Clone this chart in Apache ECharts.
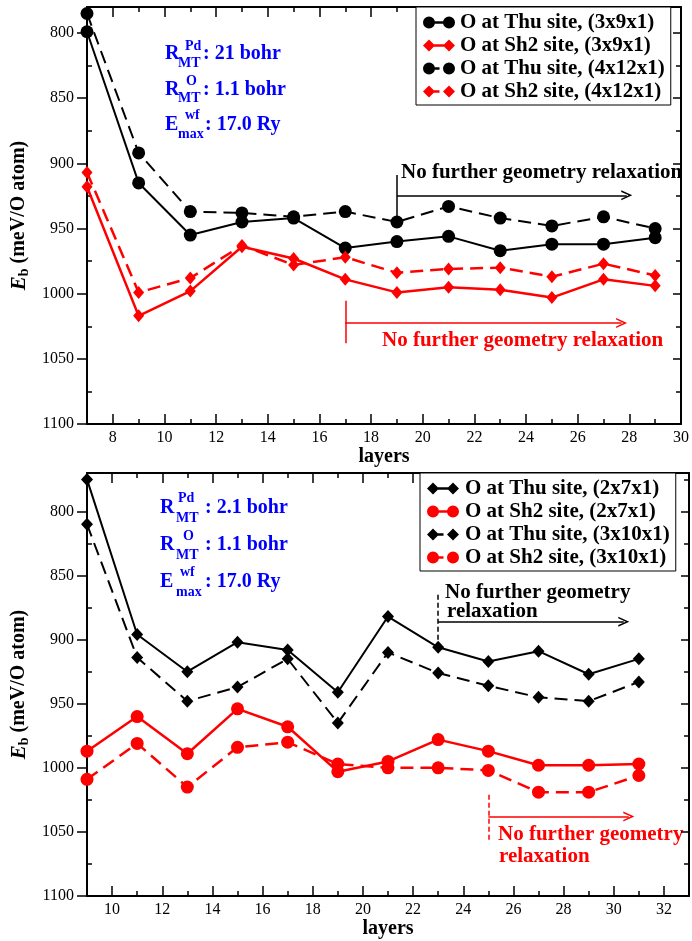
<!DOCTYPE html>
<html><head><meta charset="utf-8">
<script src="https://cdn.jsdelivr.net/npm/echarts@6/dist/echarts.min.js"></script>
<style>html,body{margin:0;padding:0;background:#fff}#c{width:692px;height:941px}</style>
</head><body><div id="c"></div>
<script>
// ---------------- data ----------------
const topLayers = [7, 9, 11, 13, 15, 17, 19, 21, 23, 25, 27, 29];
const topThu3x9 = [799, 915, 955, 945, 942, 965, 960, 956, 967, 962, 962, 957];
const topSh2_3x9 = [918, 1017, 998, 964, 973, 989, 999, 995, 997, 1003, 989, 994];
const topThu4x12 = [785, 892, 937, 938, 941, 937, 945, 933, 942, 948, 941, 950];
const topSh2_4x12 = [907, 999, 988, 963, 978, 972, 984, 981, 980, 987, 977, 986];

const botLayers = [9, 11, 13, 15, 17, 19, 21, 23, 25, 27, 29, 31];
const botThu2x7 = [775, 896, 925, 902, 908, 941, 882, 906, 917, 909, 927, 915];
const botSh2_2x7 = [987, 960, 989, 954, 968, 1003, 995, 978, 987, 998, 998, 997];
const botThu3x10 = [810, 914, 948, 937, 915, 965, 910, 926, 936, 945, 948, 933];
const botSh2_3x10 = [1009, 981, 1015, 984, 980, 997, 1000, 1000, 1002, 1019, 1019, 1006];

const topXTicks = [8, 10, 12, 14, 16, 18, 20, 22, 24, 26, 28, 30];
const topXMinor = [9, 11, 13, 15, 17, 19, 21, 23, 25, 27, 29];
const botXTicks = [10, 12, 14, 16, 18, 20, 22, 24, 26, 28, 30, 32];
const botXMinor = [11, 13, 15, 17, 19, 21, 23, 25, 27, 29, 31];
const yTicks = [800, 850, 900, 950, 1000, 1050, 1100];
const topYMinor = [825, 875, 925, 975, 1025, 1075];
const botYMinor = [775, 825, 875, 925, 975, 1025, 1075];

const topNames = ['O at Thu site, (3x9x1)', 'O at Sh2 site, (3x9x1)', 'O at Thu site, (4x12x1)', 'O at Sh2 site, (4x12x1)'];
const botNames = ['O at Thu site, (2x7x1)', 'O at Sh2 site, (2x7x1)', 'O at Thu site, (3x10x1)', 'O at Sh2 site, (3x10x1)'];

// annotation anchors (data coords): [x, yStart, yEnd, arrowY, arrowEndX]
const topBlackNote = [19, 909, 945, 924.5, 27.9];
const topRedNote = [17, 1005.5, 1038, 1022.5, 27.7];
const botBlackNote = [23, 865, 906, 886, 30.4];
const botRedNote = [25, 1021, 1058, 1038, 30.6];

// ---------------- styling ----------------
const FONT = '"Liberation Serif", "Times New Roman", serif';
const BLUE = '#0000ff';
const RED = '#ff0000';
const DASH = [13, 7];
const CHEVRON = 'path://M0,10 L5,0 L10,10 L8.4,10 L5,3.2 L1.6,10 Z';

function xAxes(grid, min, max, major, minor) {
  const base = {gridIndex: grid, type: 'value', min: min, max: max, splitLine: {show: false}, axisPointer: {show: false}};
  return [
    Object.assign({}, base, {position: 'bottom',
      axisLine: {show: true, onZero: false, lineStyle: {color: '#000', width: 2}},
      axisTick: {show: true, inside: true, length: 10, customValues: major, lineStyle: {color: '#000', width: 1.5}},
      axisLabel: {show: true, customValues: major, fontFamily: FONT, fontSize: 16, color: '#000', margin: 6,
        formatter: v => String(v)},
      name: 'layers', nameLocation: 'middle', nameGap: 22,
      nameTextStyle: {fontFamily: FONT, fontSize: 20, fontWeight: 'bold', color: '#000'}}),
    Object.assign({}, base, {position: 'bottom', axisLine: {show: false},
      axisTick: {show: true, inside: true, length: 5, customValues: minor, lineStyle: {color: '#000', width: 1.5}},
      axisLabel: {show: false}}),
    Object.assign({}, base, {position: 'top',
      axisLine: {show: true, onZero: false, lineStyle: {color: '#000', width: 2}},
      axisTick: {show: true, inside: true, length: 10, customValues: major, lineStyle: {color: '#000', width: 1.5}},
      axisLabel: {show: false}}),
    Object.assign({}, base, {position: 'top', axisLine: {show: false},
      axisTick: {show: true, inside: true, length: 5, customValues: minor, lineStyle: {color: '#000', width: 1.5}},
      axisLabel: {show: false}})
  ];
}
function yAxes(grid, min, max, major, minor) {
  const base = {gridIndex: grid, type: 'value', min: min, max: max, inverse: true, splitLine: {show: false}, axisPointer: {show: false}};
  return [
    Object.assign({}, base, {position: 'left',
      axisLine: {show: true, onZero: false, lineStyle: {color: '#000', width: 2}},
      axisTick: {show: true, inside: false, length: 10, customValues: major, lineStyle: {color: '#000', width: 1.5}},
      axisLabel: {show: true, customValues: major, fontFamily: FONT, fontSize: 16, color: '#000', margin: 13,
        formatter: v => String(v)},
      name: '{e|E}{b|b} (meV/O atom)', nameLocation: 'middle', nameGap: 55,
      nameTextStyle: {fontFamily: FONT, fontSize: 20, fontWeight: 'bold', color: '#000',
        rich: {
          e: {fontFamily: FONT, fontSize: 21, fontWeight: 'bold', fontStyle: 'italic', color: '#000'},
          b: {fontFamily: FONT, fontSize: 14, fontWeight: 'bold', color: '#000', padding: [10, 0, 0, 0]}
        }}}),
    Object.assign({}, base, {position: 'left', axisLine: {show: false},
      axisTick: {show: true, inside: true, length: 5, customValues: minor, lineStyle: {color: '#000', width: 1.5}},
      axisLabel: {show: false}}),
    Object.assign({}, base, {position: 'right',
      axisLine: {show: true, onZero: false, lineStyle: {color: '#000', width: 2}},
      axisTick: {show: true, inside: true, length: 8, customValues: major, lineStyle: {color: '#000', width: 1.5}},
      axisLabel: {show: false}}),
    Object.assign({}, base, {position: 'right', axisLine: {show: false},
      axisTick: {show: true, inside: true, length: 5, customValues: minor, lineStyle: {color: '#000', width: 1.5}},
      axisLabel: {show: false}})
  ];
}

function pairs(xs, ys) { return xs.map((x, i) => [x, ys[i]]); }

function noteLines(note, color, dashedVertical) {
  return {
    silent: true, animation: false,
    label: {show: false},
    emphasis: {disabled: true},
    data: [
      [{coord: [note[0], note[1]], symbol: 'none', lineStyle: {color: color, width: 1.5, type: dashedVertical ? [5, 3] : 'solid'}},
       {coord: [note[0], note[2]], symbol: 'none'}],
      [{coord: [note[0], note[3]], symbol: 'none', lineStyle: {color: color, width: 1.5, type: 'solid'}},
       {coord: [note[4], note[3]], symbol: CHEVRON, symbolSize: [10, 11]}]
    ]
  };
}

function series(name, xs, ys, xi, yi, color, dashed, symbol, size, width, note, dashedVertical) {
  const s = {
    type: 'line', name: name, xAxisIndex: xi, yAxisIndex: yi,
    data: pairs(xs, ys), symbol: symbol, symbolSize: size, showSymbol: true, clip: false,
    lineStyle: {color: color, width: width, type: dashed ? DASH : 'solid'},
    itemStyle: {color: color, borderWidth: 0},
    emphasis: {disabled: true}, animation: false
  };
  if (note) s.markLine = noteLines(note, color, dashedVertical);
  return s;
}

const ICON_CC = 'path://M0,6 A6,6 0 1,0 12,6 A6,6 0 1,0 0,6 Z M20,6 A6,6 0 1,0 32,6 A6,6 0 1,0 20,6 Z M6,4.8 L6,7.2 L26,7.2 L26,4.8 Z';
const ICON_CD = 'path://M0,6 A6,6 0 1,0 12,6 A6,6 0 1,0 0,6 Z M20,6 A6,6 0 1,0 32,6 A6,6 0 1,0 20,6 Z M6,4.8 L6,7.2 L16.5,7.2 L16.5,4.8 Z';
const ICON_DC = 'path://M0,6 L6,0 L12,6 L6,12 Z M20,6 L26,0 L32,6 L26,12 Z M6,4.8 L26,4.8 L26,7.2 L6,7.2 Z';
const ICON_DD = 'path://M0,6 L6,0 L12,6 L6,12 Z M20,6 L26,0 L32,6 L26,12 Z M6,4.8 L16.5,4.8 L16.5,7.2 L6,7.2 Z';

function legend(names, icons, left, top, itemWidth, itemHeight) {
  return {
    orient: 'vertical', left: left, top: top,
    data: names.map((n, i) => ({name: n, icon: icons[i]})),
    itemWidth: itemWidth, itemHeight: itemHeight, itemGap: 2,
    padding: [5, 6, 3, 7],
    borderColor: '#000', borderWidth: 1, borderRadius: 0, backgroundColor: '#fff',
    selectedMode: false,
    textStyle: {fontFamily: FONT, fontSize: 21, fontWeight: 'bold', color: '#000', lineHeight: 20}
  };
}

function txt(text, x, y, size, color) {
  return {type: 'text', x: x, y: y, silent: true,
    style: {text: text, fill: color, font: 'bold ' + size + 'px ' + FONT, align: 'left', verticalAlign: 'middle'}};
}

const graphics = [
  // top parameters
  txt('R', 165, 54, 20, BLUE), txt('Pd', 185, 46, 14, BLUE), txt('MT', 178, 63, 14, BLUE), txt(': 21 bohr', 203, 54, 20, BLUE),
  txt('R', 165, 90, 20, BLUE), txt('O', 186, 81, 14, BLUE), txt('MT', 178, 98, 14, BLUE), txt(': 1.1 bohr', 203, 90, 20, BLUE),
  txt('E', 165, 125, 20, BLUE), txt('wf', 185, 115, 14, BLUE), txt('max', 178, 134, 14, BLUE), txt(': 17.0 Ry', 205, 125, 20, BLUE),
  // bottom parameters
  txt('R', 160, 508, 20, BLUE), txt('Pd', 178, 498, 14, BLUE), txt('MT', 176, 518, 14, BLUE), txt(': 2.1 bohr', 205, 508, 20, BLUE),
  txt('R', 160, 545, 20, BLUE), txt('O', 183, 536, 14, BLUE), txt('MT', 176, 555, 14, BLUE), txt(': 1.1 bohr', 205, 545, 20, BLUE),
  txt('E', 160, 582, 20, BLUE), txt('wf', 180, 572, 14, BLUE), txt('max', 176, 592, 14, BLUE), txt(': 17.0 Ry', 205, 582, 20, BLUE),
  // relaxation notes
  txt('No further geometry relaxation', 401, 173, 21, '#000'),
  txt('No further geometry relaxation', 382, 341, 21, RED),
  txt('No further geometry', 445, 593, 21, '#000'),
  txt('relaxation', 447, 612, 21, '#000'),
  txt('No further geometry', 498, 835, 21, RED),
  txt('relaxation', 499, 857, 21, RED)
];

const option = {
  backgroundColor: '#fff',
  animation: false,
  grid: [
    {left: 87, top: 7, width: 596, height: 417, containLabel: false},
    {left: 87, top: 473, width: 602, height: 423, containLabel: false}
  ],
  xAxis: xAxes(0, 7, 30, topXTicks, topXMinor).concat(xAxes(1, 9, 33, botXTicks, botXMinor)),
  yAxis: yAxes(0, 780, 1100, yTicks, topYMinor).concat(yAxes(1, 770, 1100, yTicks, botYMinor)),
  legend: [
    legend(topNames, [ICON_CC, ICON_DC, ICON_CD, ICON_DD], 416, 7, 32, 12),
    legend(botNames, [ICON_DC, ICON_CC, ICON_DD, ICON_CD], 420, 473, 34, 12)
  ],
  series: [
    series(topNames[0], topLayers, topThu3x9, 0, 0, '#000', false, 'circle', 13, 2, topBlackNote, false),
    series(topNames[1], topLayers, topSh2_3x9, 0, 0, RED, false, 'diamond', [11, 13], 2.5, topRedNote, false),
    series(topNames[2], topLayers, topThu4x12, 0, 0, '#000', true, 'circle', 13, 2, null),
    series(topNames[3], topLayers, topSh2_4x12, 0, 0, RED, true, 'diamond', [11, 13], 2.5, null),
    series(botNames[0], botLayers, botThu2x7, 4, 4, '#000', false, 'diamond', [12, 13], 2, botBlackNote, true),
    series(botNames[1], botLayers, botSh2_2x7, 4, 4, RED, false, 'circle', 13, 2.5, botRedNote, true),
    series(botNames[2], botLayers, botThu3x10, 4, 4, '#000', true, 'diamond', [12, 13], 2, null),
    series(botNames[3], botLayers, botSh2_3x10, 4, 4, RED, true, 'circle', 13, 2.5, null)
  ],
  graphic: graphics
};

const chart = echarts.init(document.getElementById('c'), null, {renderer: 'canvas'});
chart.setOption(option);
</script>
</body></html>
